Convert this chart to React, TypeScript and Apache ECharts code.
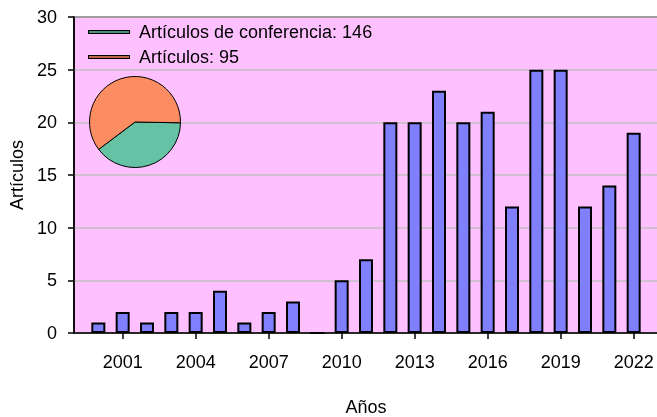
import React, { useEffect, useRef } from "react";
import * as echarts from "echarts";

const years: string[] = [
  "1999", "2000", "2001", "2002", "2003", "2004", "2005", "2006", "2007", "2008",
  "2009", "2010", "2011", "2012", "2013", "2014", "2015", "2016", "2017", "2018",
  "2019", "2020", "2021", "2022", "2023",
];
const articles: (number | null)[] = [
  null, 1, 2, 1, 2, 2, 4, 1, 2, 3,
  0, 5, 7, 20, 20, 23, 20, 21, 12, 25,
  25, 12, 14, 19, null,
];
const pieNames: string[] = ["Artículos: 95", "Artículos de conferencia: 146"];
const pieValues: number[] = [95, 146];
const pieColors: string[] = ["#66c2a5", "#fc8d62"];
const legendLabels: string[] = ["Artículos de conferencia: 146", "Artículos: 95"];
const legendColors: string[] = ["#66c2a5", "#fc8d62"];
const yAxisName = "Artículos";
const xAxisName = "Años";

const FONT = "'Liberation Sans', Arial, sans-serif";
const FS = 18;

export default function App() {
  const ref = useRef<HTMLDivElement>(null);
  useEffect(() => {
    if (!ref.current) return;
    const chart = echarts.init(ref.current, null, { renderer: "svg" });
    const showYear = (_i: number, v: string) => (Number(v) - 2001) % 3 === 0;
    const legendGraphics: any[] = [];
    legendLabels.forEach((lab, i) => {
      const y = 32 + i * 25;
      legendGraphics.push({
        type: "line",
        shape: { x1: 88, y1: y, x2: 130, y2: y },
        style: { stroke: "#000", lineWidth: 4 },
        z: 100,
      });
      legendGraphics.push({
        type: "line",
        shape: { x1: 89, y1: y, x2: 129, y2: y },
        style: { stroke: legendColors[i], lineWidth: 1.5 },
        z: 101,
      });
      legendGraphics.push({
        type: "text",
        x: 139,
        y: y,
        style: {
          text: lab,
          fill: "#000",
          font: `${FS}px ${FONT}`,
          textVerticalAlign: "middle",
          verticalAlign: "middle",
        },
        z: 101,
      });
    });
    chart.setOption({
      animation: false,
      textStyle: { fontFamily: FONT, fontSize: FS, color: "#000" },
      grid: {
        left: 74,
        top: 17,
        width: 584,
        height: 316,
        outerBoundsMode: "none",
        containLabel: false,
        show: true,
        backgroundColor: "#ffc0ff",
        borderColor: "#000",
        borderWidth: 1.5,
      },
      xAxis: {
        type: "category",
        data: years,
        boundaryGap: false,
        name: xAxisName,
        nameLocation: "middle",
        nameGap: 66,
        nameTextStyle: { fontFamily: FONT, fontSize: FS, lineHeight: 16, color: "#000" },
        axisLine: { show: true, lineStyle: { color: "#000", width: 1.5 } },
        axisTick: { show: true, interval: showYear, length: 6, lineStyle: { color: "#000", width: 1.5 } },
        axisLabel: { interval: showYear, margin: 20, fontFamily: FONT, fontSize: FS, color: "#000" },
        splitLine: { show: false },
      },
      yAxis: {
        type: "value",
        min: 0,
        max: 30,
        interval: 5,
        name: yAxisName,
        nameLocation: "middle",
        nameGap: 48,
        nameRotate: 90,
        nameTextStyle: { fontFamily: FONT, fontSize: FS, color: "#000" },
        axisLine: { show: true, lineStyle: { color: "#000", width: 1.5 } },
        axisTick: { show: true, length: 6, lineStyle: { color: "#000", width: 1.5 } },
        axisLabel: { margin: 17, fontFamily: FONT, fontSize: FS, color: "#000" },
        splitLine: { show: true, lineStyle: { color: "#c0c0c0", width: 1.5 } },
      },
      series: [
        {
          type: "bar",
          data: articles,
          barWidth: 14,
          itemStyle: { color: "#8080ff", borderColor: "#000", borderWidth: 2 },
          silent: true,
          z: 3,
        },
        {
          type: "pie",
          center: [135, 122],
          radius: 45.5,
          startAngle: -1,
          clockwise: true,
          label: { show: false },
          labelLine: { show: false },
          silent: true,
          z: 10,
          itemStyle: { borderColor: "#000", borderWidth: 1 },
          data: pieNames.map((n, i) => ({
            name: n,
            value: pieValues[i],
            itemStyle: { color: pieColors[i] },
          })),
        },
      ],
      graphic: legendGraphics,
    });
    return () => chart.dispose();
  }, []);
  return (
    <div
      ref={ref}
      style={{ position: "fixed", left: 0, top: 0, width: 657, height: 417 }}
    />
  );
}
